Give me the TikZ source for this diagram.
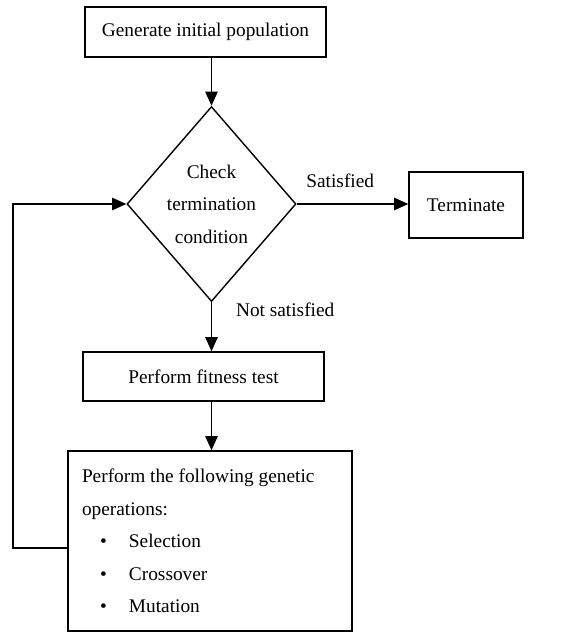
\documentclass[tikz,border=0pt]{standalone}
\usepackage{fontspec}
\setmainfont{Liberation Serif}
\usetikzlibrary{shapes.geometric,arrows.meta}
\newcommand{\opitem}[1]{\hspace*{0.36cm}\makebox[0.58cm][l]{\textbullet}#1}

\begin{document}
\begin{tikzpicture}[font=\fontsize{11}{18.5}\selectfont,line width=0.8pt,
>={Triangle[length=8pt,width=7pt]},
box/.style={draw,rectangle,inner sep=0pt},
test/.style={draw,diamond,inner sep=0pt,minimum width=3.38cm,minimum height=3.9cm,align=center}]
\useasboundingbox (0,0) rectangle (11.6,-12.64);
\node[box,minimum width=4.82cm,minimum height=1cm] (a) at (4.11,-0.64) {Generate initial population};
\node[test] (b) at (4.23,-4.08) {Check\\termination\\condition};
\node[box,minimum width=2.28cm,minimum height=1.32cm] (c) at (9.32,-4.1) {Terminate};
\node[box,minimum width=4.82cm,minimum height=0.98cm] (d) at (4.07,-7.53) {Perform fitness test};
\node[box,align=flush left,text width=5.12cm,inner xsep=0.28cm,minimum height=3.6cm] (e) at (4.2,-10.82)
{Perform the following genetic\\operations:\\\opitem{Selection}\\\opitem{Crossover}\\\opitem{Mutation}};
\coordinate (f) at (0.26,-10.96);
\path[->]
(a.south -| b.north) edge (b.north)
(b.east) edge node[pos=0.39,above=0.2cm] {Satisfied} (b.east -| c.west)
(b.south) edge node[pos=0.15,right=0.36cm] {Not satisfied} (b.south |- d.north)
(d.south -| b.south) edge (b.south |- e.north)
;
\draw[->] (f -| e.west) -- (f) |- (b.west);
\end{tikzpicture}
\end{document}
